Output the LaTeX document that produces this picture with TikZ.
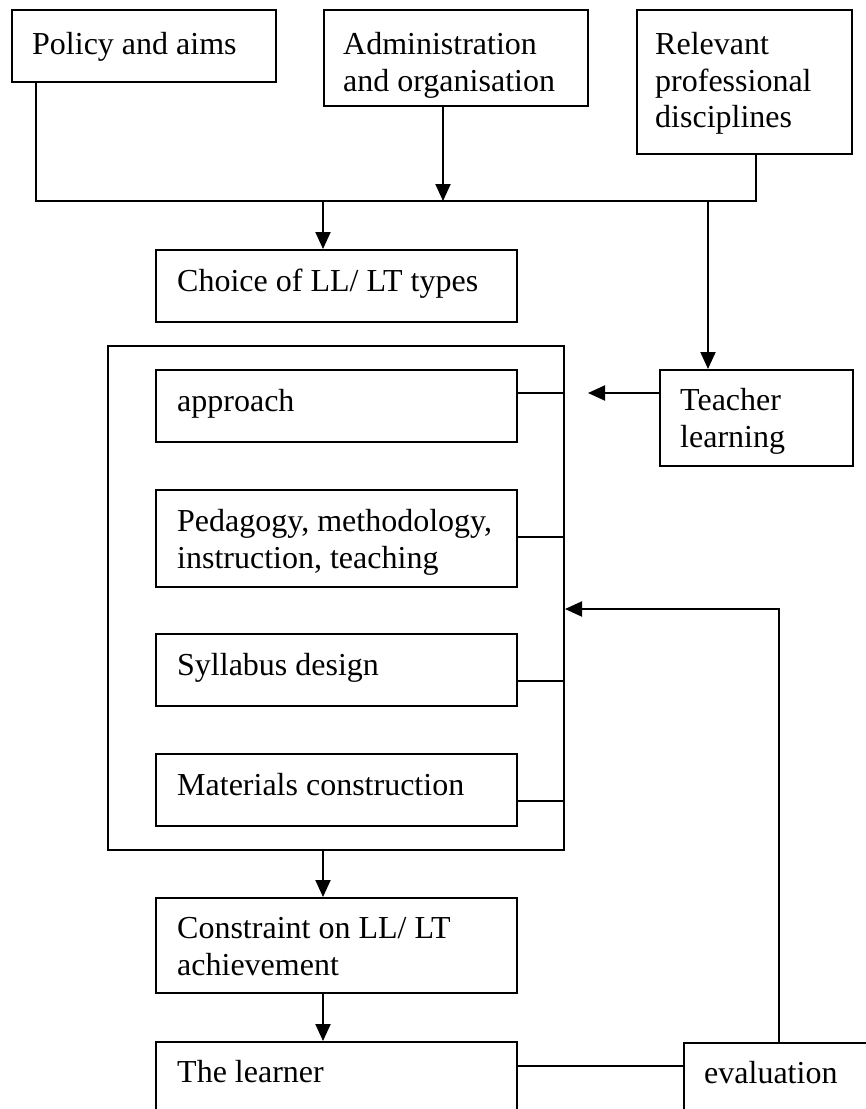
\documentclass[tikz,border=0pt]{standalone}
\usepackage{fontspec}
\setmainfont{Liberation Serif}
\usetikzlibrary{arrows.meta,calc}
\begin{document}
\begin{tikzpicture}[x=1pt,y=-1pt,
  box/.style={draw, line width=2pt, anchor=north west, inner sep=0pt},
  txt/.style={anchor=north west, inner sep=0pt, align=left, font=\fontsize{32}{36.5}\selectfont},
  ln/.style={line width=2pt},
  arr/.style={line width=2pt, -{Triangle[length=17pt,width=15pt]}}]
\clip (0,0) rectangle (866,1109);
\fill[white] (0,0) rectangle (866,1109);
% boxes
\node[box, minimum width=264pt, minimum height=72pt] (policy) at (11,9) {};
\node[box, minimum width=264pt, minimum height=96pt] (admin) at (323,9) {};
\node[box, minimum width=215pt, minimum height=144pt] (relevant) at (636,9) {};
\node[box, minimum width=361pt, minimum height=72pt] (choice) at (155,249) {};
\node[box, minimum width=456pt, minimum height=504pt] (big) at (107,345) {};
\node[box, minimum width=361pt, minimum height=72pt] (approach) at (155,369) {};
\node[box, minimum width=361pt, minimum height=97pt] (pedagogy) at (155,489) {};
\node[box, minimum width=361pt, minimum height=72pt] (syllabus) at (155,633) {};
\node[box, minimum width=361pt, minimum height=72pt] (materials) at (155,753) {};
\node[box, minimum width=193pt, minimum height=96pt] (teacher) at (659,369) {};
\node[box, minimum width=361pt, minimum height=95pt] (constraint) at (155,897) {};
\node[box, minimum width=361pt, minimum height=110pt] (learner) at (155,1041) {};
\node[box, minimum width=220pt, minimum height=110pt] (eval) at (683,1042) {};
% texts
\node[txt] (policyT) at ($(policy.north west)+(21,20)$) {\strut Policy and aims};
\node[txt] (adminT) at ($(admin.north west)+(20,20)$) {\strut Administration\\and organisation};
\node[txt] (relevantT) at ($(relevant.north west)+(19,20)$) {\strut Relevant\\professional\\disciplines};
\node[txt] (choiceT) at ($(choice.north west)+(22,17)$) {\strut Choice of LL/ LT types};
\node[txt] (approachT) at ($(approach.north west)+(22,17)$) {\strut approach};
\node[txt] (pedagogyT) at ($(pedagogy.north west)+(22,17)$) {\strut Pedagogy, methodology,\\instruction, teaching};
\node[txt] (syllabusT) at ($(syllabus.north west)+(22,17)$) {\strut Syllabus design};
\node[txt] (materialsT) at ($(materials.north west)+(22,17)$) {\strut Materials construction};
\node[txt] (teacherT) at ($(teacher.north west)+(21,16)$) {\strut Teacher\\learning};
\node[txt] (constraintT) at ($(constraint.north west)+(22,16)$) {\strut Constraint on LL/ LT\\achievement};
\node[txt] (learnerT) at ($(learner.north west)+(22,16)$) {\strut The learner};
\node[txt] (evalT) at ($(eval.north west)+(21,16)$) {\strut evaluation};
% junction coordinates
\coordinate (jL) at (36,201);
\coordinate (jR) at (756,201);
\coordinate (jA) at (443,201);
\coordinate (jC) at (323,201);
\coordinate (jT) at (708,201);
\coordinate (tTip) at (588,393);
\coordinate (s1) at (0,393);
\coordinate (s2) at (0,537);
\coordinate (s3) at (0,681);
\coordinate (s4) at (0,801);
\coordinate (yL) at (0,1066);
\coordinate (eA) at (779,609);
% connectors
\draw[ln] (policy.south west -| jL) -- (jL) -- (jR) -- (relevant.south -| jR);
\draw[arr] (admin.south -| jA) -- (jA);
\draw[arr] (jC) -- (choice.north -| jC);
\draw[arr] (jT) -- (teacher.north -| jT);
\draw[arr] (teacher.west |- tTip) -- (tTip);
\draw[ln] (approach.east |- s1) -- (big.east |- s1);
\draw[ln] (pedagogy.east |- s2) -- (big.east |- s2);
\draw[ln] (syllabus.east |- s3) -- (big.east |- s3);
\draw[ln] (materials.east |- s4) -- (big.east |- s4);
\draw[arr] (big.south -| jC) -- (constraint.north -| jC);
\draw[arr] (constraint.south -| jC) -- (learner.north -| jC);
\draw[ln] (learner.east |- yL) -- (eval.west |- yL);
\draw[arr] (eval.north -| eA) -- (eA) -- (big.east |- eA);
\end{tikzpicture}
\end{document}
